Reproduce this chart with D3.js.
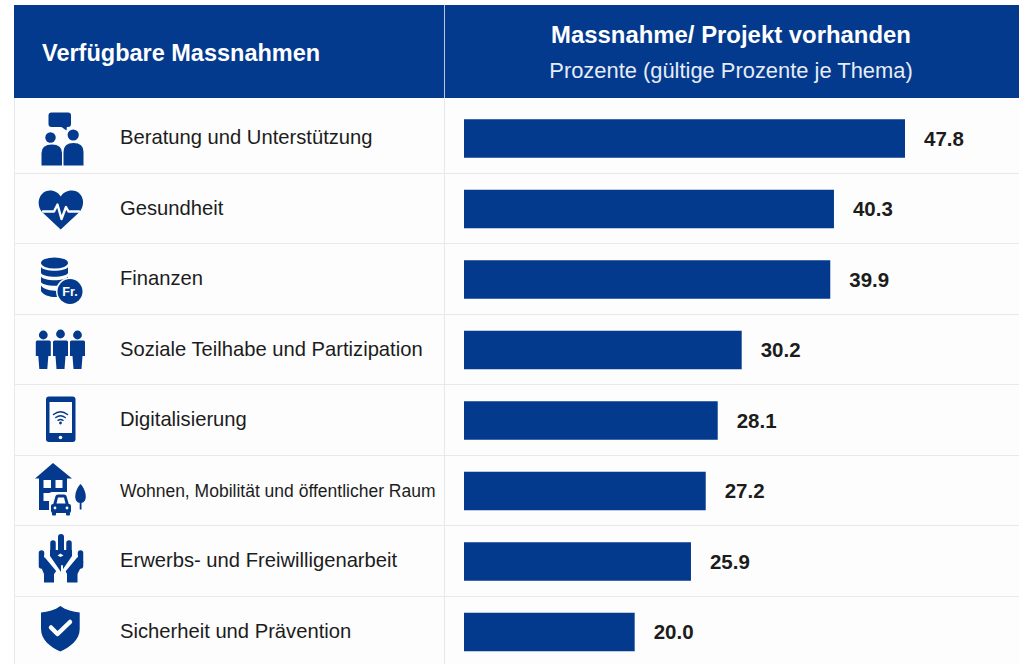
<!DOCTYPE html>
<html><head><meta charset="utf-8">
<script src="https://cdn.jsdelivr.net/npm/d3@7/dist/d3.min.js"></script>
<style>html,body{margin:0;padding:0;background:#fff;overflow:hidden}svg{display:block}text{font-family:"Liberation Sans",Arial,sans-serif}</style>
</head><body><svg id="c" width="1019" height="664"></svg>
<script>
const categories = ["Beratung und Unterstützung","Gesundheit","Finanzen","Soziale Teilhabe und Partizipation","Digitalisierung","Wohnen, Mobilität und öffentlicher Raum","Erwerbs- und Freiwilligenarbeit","Sicherheit und Prävention"];
// printed values
const valueLabels = [47.8,40.3,39.9,30.2,28.1,27.2,25.9,20.0];
// bar lengths as measured in the picture (same units; the original bars are not exactly proportional)
const barLengths = [47.8,40.1,39.7,30.1,27.5,26.2,24.6,18.5];
const headLeft = "Verfügbare Massnahmen";
const headRight = "Massnahme/ Projekt vorhanden";
const subRight = "Prozente (gültige Prozente je Thema)";

const BLUE="#033a8e", INK="#1c1c1c", RULE="#e8e9ec";
const svg=d3.select("#c");
const x=d3.scaleLinear().domain([0,47.8]).range([464,905]);
const yBand=d3.scaleBand().domain(categories).range([103.25,667.25]);
const barH=38.5;

svg.append("rect").attr("x",14).attr("y",98).attr("width",1005).attr("height",566).attr("fill","#fdfdfd");
// header
svg.append("rect").attr("x",14).attr("y",5).attr("width",1005).attr("height",93).attr("fill",BLUE);
svg.append("line").attr("x1",444.5).attr("x2",444.5).attr("y1",5).attr("y2",98).attr("stroke","#b9c6de").attr("stroke-width",1);
svg.append("line").attr("x1",444.5).attr("x2",444.5).attr("y1",98).attr("y2",664).attr("stroke",RULE).attr("stroke-width",1);
svg.append("line").attr("x1",14.5).attr("x2",14.5).attr("y1",98).attr("y2",664).attr("stroke",RULE);
svg.append("text").attr("x",42).attr("y",61).attr("fill","#fff").attr("font-weight",700).attr("font-size",23.5).text(headLeft);
svg.append("text").attr("x",731).attr("y",43).attr("text-anchor","middle").attr("fill","#fff").attr("font-weight",700).attr("font-size",23.9).text(headRight);
svg.append("text").attr("x",731).attr("y",78).attr("text-anchor","middle").attr("fill","#e6ecf5").attr("font-size",21.9).text(subRight);

// rows
svg.append("g").selectAll("line").data(categories.slice(0,-1)).join("line")
 .attr("x1",14).attr("x2",1019)
 .attr("y1",d=>Math.round(yBand(d)+yBand.step())-.5).attr("y2",d=>Math.round(yBand(d)+yBand.step())-.5)
 .attr("stroke",RULE);
const cy=d=>yBand(d)+yBand.bandwidth()/2;
svg.append("g").selectAll("text").data(categories).join("text")
 .attr("x",120).attr("y",d=>cy(d)+5.5).attr("fill",INK)
 .attr("font-size",(d,i)=>i===5?17.5:20.2).text(d=>d);
svg.append("g").selectAll("rect").data(barLengths).join("rect")
 .attr("x",x(0)).attr("y",(d,i)=>cy(categories[i])-barH/2)
 .attr("width",d=>x(d)-x(0)).attr("height",barH).attr("fill",BLUE);
svg.append("g").selectAll("text").data(valueLabels).join("text")
 .attr("x",(d,i)=>x(barLengths[i])+19).attr("y",(d,i)=>cy(categories[i])+7)
 .attr("fill",INK).attr("font-weight",700).attr("font-size",20.5).text(d=>d.toFixed(1));

// icons
const ic=svg.append("g").attr("fill",BLUE);
const P=(d,f=BLUE,extra={})=>{const p=ic.append("path").attr("d",d).attr("fill",f);for(const k in extra)p.attr(k,extra[k]);return p;};
const C=(cx,cy,r,f=BLUE)=>ic.append("circle").attr("cx",cx).attr("cy",cy).attr("r",r).attr("fill",f);
const E=(cx,cy,rx,ry,f=BLUE)=>ic.append("ellipse").attr("cx",cx).attr("cy",cy).attr("rx",rx).attr("ry",ry).attr("fill",f);
const R=(x,y,w,h,r=0,f=BLUE)=>ic.append("rect").attr("x",x).attr("y",y).attr("width",w).attr("height",h).attr("rx",r).attr("fill",f);
const L=(d,w,col=BLUE)=>ic.append("path").attr("d",d).attr("fill","none").attr("stroke",col).attr("stroke-width",w).attr("stroke-linecap","round").attr("stroke-linejoin","round");

// 1 consulting
R(48.5,112.5,22.5,14.5,3);
P("M60 126 L67 126 L66.5 130.5 Z");
C(50.5,137.5,5.2); C(73.2,135,5.6);
P("M41.5 165.5 V153 Q41.5 144.5 52 144.5 Q62 144.5 62 153 V165.5 Z");
P("M63.5 165.5 V152 Q63.5 143 73.5 143 Q83.5 143 83.5 152 V165.5 Z");

// 2 heart
P("M60.7 229.5 L42 212 C35 203 40 190.5 50 190.5 C55 190.5 58.5 193 60.7 196.5 C63 193 66.5 190.5 72 190.5 C82 190.5 87 203 79.5 212 Z");
L("M43 211.5 H54 L57.5 204.5 L61.5 219 L66 207 L68.5 211.5 H79",2.4,"#fdfdfd");

// 3 money
E(54.5,263,13.5,5.5);
P("M41 267 C44 272 65 272 68 267 V273 C65 278 44 278 41 273 Z");
P("M41 276.5 C44 281.5 65 281.5 68 276.5 V282 C65 287 44 287 41 282 Z");
P("M41 285.5 C44 290.5 56 291 58 291 V297 C50 297.5 43 295 41 291 Z");
C(70,291.5,14,"#fdfdfd"); C(70,291.5,12.5);
ic.append("text").attr("x",70).attr("y",296).attr("text-anchor","middle").attr("fill","#fff").attr("font-size",12.5).attr("font-weight",700).text("Fr.");

// 4 people
[[43.3,335],[60.5,334],[77.5,335]].forEach(([cx,hy])=>{
 C(cx,hy,4.4);
 P(`M${cx-7.5} 342 Q${cx-7.5} 340.5 ${cx-6} 340.5 H${cx+6} Q${cx+7.5} 340.5 ${cx+7.5} 342 V356 H${cx+5} L${cx+4} 369 H${cx-4} L${cx-5} 356 H${cx-7.5} Z`);
});

// 5 tablet
R(46,396.5,29.5,45.5,3);
R(49.5,402,22.5,31,0,"#fdfdfd");
C(60.5,437.5,1.8,"#fdfdfd");
L("M53.5 414.5 Q60.5 409 67.5 414.5",1.5);
L("M55.8 417.5 Q60.5 413.8 65.2 417.5",1.5);
L("M58 420.3 Q60.5 418.6 63 420.3",1.4);
C(60.5,423,1.4);

// 6 house/car/tree
P("M35 478.5 L53 463 L72 478.5 Z");
R(39,477,28,33);
R(43.5,480,7.5,8,0,"#fdfdfd"); R(55.5,480,7,8,0,"#fdfdfd"); R(43.5,493,7,8,0,"#fdfdfd");
R(49,492,24,24,3,"#fdfdfd");
R(51,504,20,9,2);
P("M53 505 L55.5 496 Q56 494.5 58 494.5 H64 Q66 494.5 66.5 496 L69 505 Z");
P("M56.5 503.5 L58 497.5 H64 L65.5 503.5 Z","#fdfdfd");
R(52,512,4,3.5,1); R(66,512,4,3.5,1);
C(55,508,1.4,"#fdfdfd"); C(67,508,1.4,"#fdfdfd");
P("M80.5 484 C87 491 88 503 80.5 503 C73 503 74 491 80.5 484 Z");
R(79.7,500,1.8,9.5);

// 7 hands
L("M61 537 V553",6); L("M53 543 V553",5.5); L("M69 543 V553",5.5);
P("M50 550 H72 V556 L61 572 L50 556 Z");
P("M60.5 557 l-3 -1.5 3 -2 3 2 Z","#fdfdfd");
L("M41.5 553 L41.5 566",5.5); L("M80.5 553 L80.5 566",5.5);
P("M39 562 L45 557 L57 570 L54 574 V582.5 H44 V574 Z");
P("M83.5 562 L77 557 L65 570 L67 574 V582.5 H77.5 V574 Z");
L("M45 556 L60 574",2,"#fdfdfd"); L("M62 566 L62 572",2,"#fdfdfd"); L("M77 556 L62 574",2,"#fdfdfd");

// 8 shield
P("M60.3 606 C66 610 73 612 79.7 612.5 V629 C79.7 640 70 647 60.3 651.5 C50.5 647 41 640 41 629 V612.5 C48 612 55 610 60.3 606 Z");
L("M51 627.5 L57.5 634 L70 622",4.5,"#fdfdfd");
</script></body></html>
